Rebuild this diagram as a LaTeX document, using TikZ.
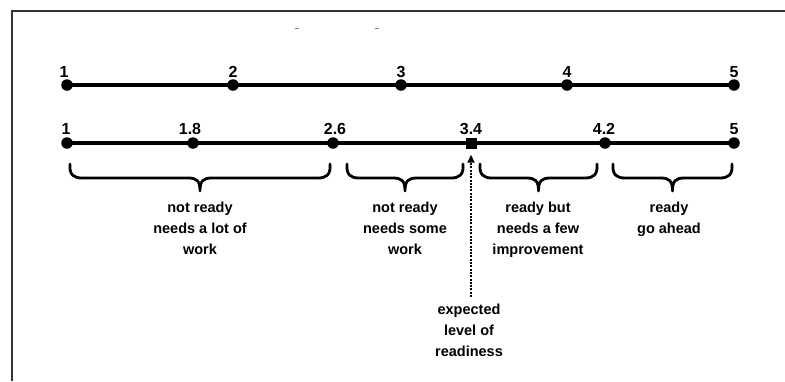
\documentclass[tikz,border=0pt]{standalone}
\usepackage{fontspec}
\setmainfont{Liberation Sans}
\usetikzlibrary{arrows.meta}
\definecolor{framegray}{HTML}{333333}
\tikzset{
  dot/.style={circle,fill=black,inner sep=0pt,minimum size=11.5pt},
  sq/.style={rectangle,fill=black,inner sep=0pt,minimum size=11pt},
  num/.style={font=\bfseries\fontsize{16}{18}\selectfont,inner sep=0pt,anchor=base},
  lbl/.style={font=\bfseries\fontsize{14.5}{21}\selectfont,align=center,inner sep=0pt,anchor=north},
  axis/.style={line width=4pt},
  bracestyle/.style={line width=2.8pt,line cap=round,line join=round},
  arr/.style={line width=1.8pt,dash pattern=on 2pt off 1.3pt,-{Triangle[length=8pt,width=7pt]}}
}
\newcommand{\mybrace}[2]{%
  \pgfmathsetmacro{\xm}{(#1+#2)/2}%
  \draw[bracestyle] (#1,164) .. controls (#1-1,175) and (#1+4,178) .. (#1+12,178)
    -- (\xm-12,178) .. controls (\xm-3,178) and (\xm,181) .. (\xm,191)
    .. controls (\xm,181) and (\xm+3,178) .. (\xm+12,178)
    -- (#2-12,178) .. controls (#2-4,178) and (#2+1,175) .. (#2,164);}
\begin{document}
\begin{tikzpicture}[x=1pt,y=-1pt]
\useasboundingbox (0,0) rectangle (785,381);
% frame
\draw[line width=1.6pt,framegray] (12,381) -- (12,11) -- (785,11);
% faint marks at top
\draw[line width=1pt,gray] (295,28) -- (299,28);
\draw[line width=1pt,gray] (375,28) -- (379,28);
% top scale
\node[dot] (a1) at (67,85) {};
\node[dot] (a2) at (233,85) {};
\node[dot] (a3) at (401,85) {};
\node[dot] (a4) at (567,85) {};
\node[dot] (a5) at (734,85) {};
\draw[axis] (a1.center) -- (a5.center);
\node[num] (la1) at (64,77) {1};
\node[num] (la2) at (233,77) {2};
\node[num] (la3) at (401,77) {3};
\node[num] (la4) at (567,77) {4};
\node[num] (la5) at (734,77) {5};
% bottom scale
\node[dot] (b1) at (67,143) {};
\node[dot] (b2) at (193,143) {};
\node[dot] (b3) at (333,143) {};
\node[sq]  (b4) at (471,143) {};
\node[dot] (b5) at (605,143) {};
\node[dot] (b6) at (734,143) {};
\draw[axis] (b1.center) -- (b6.center);
\node[sq] at (471,143) {};
\node[num] (lb1) at (66,134) {1};
\node[num] (lb2) at (190,134) {1.8};
\node[num] (lb3) at (335,134) {2.6};
\node[num] (lb4) at (471,134) {3.4};
\node[num] (lb5) at (604,134) {4.2};
\node[num] (lb6) at (734,134) {5};
% braces
\mybrace{70}{330}
\mybrace{347}{463}
\mybrace{480}{597}
\mybrace{613}{732}
% labels
\node[lbl] (t1) at (200,202) {not ready\\needs a lot of\\work};
\node[lbl] (t2) at (405,202) {not ready\\needs some\\work};
\node[lbl] (t3) at (538,202) {ready but\\needs a few\\improvement};
\node[lbl] (t4) at (669,202) {ready\\go ahead};
\node[lbl] (t5) at (469,304) {expected\\level of\\readiness};
% arrow
\draw[arr] (471,297) -- ([yshift=-6pt]b4.south);
\end{tikzpicture}
\end{document}
